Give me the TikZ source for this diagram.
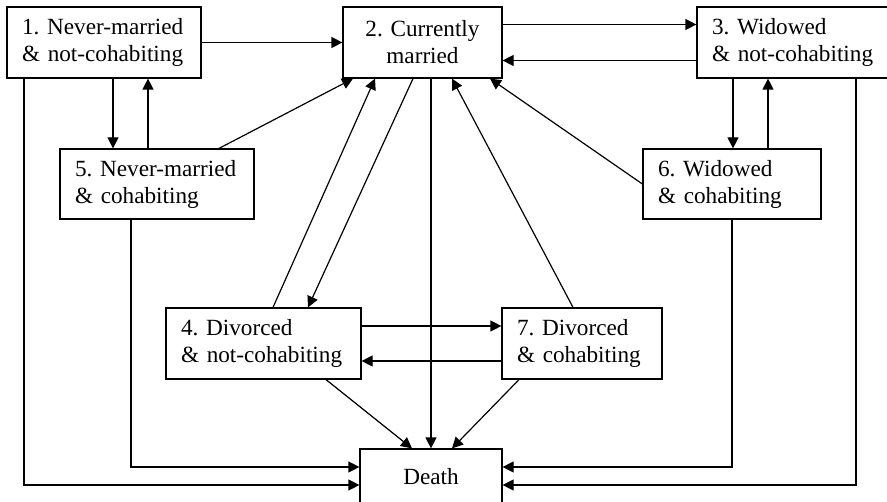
\documentclass[tikz,border=0pt]{standalone}
\usepackage{fontspec}
\setmainfont{Liberation Serif}
\usepackage{tikz}
\usetikzlibrary{arrows.meta,positioning,calc}
\frenchspacing

\begin{document}
\begin{tikzpicture}[
  x=0.5pt,y=-0.5pt,
  blk/.style={draw,line width=0.6pt,align=left,inner xsep=7.5pt,inner ysep=0pt,
              minimum height=35.5pt,text width=82pt,
              font=\fontsize{11.6}{13.5}\selectfont\frenchspacing},
  cblk/.style={blk,align=center},
  arr/.style={-{Triangle[length=5.5pt,width=5.5pt]},line width=0.6pt}
]
\useasboundingbox (0,0) rectangle (887,502);
\clip (0,0) rectangle (887,502);

% top row
\node[blk] (nevnot) at (104,42.5) {1. Never-married\\\& not-cohabiting};
\node[cblk,text width=64.5pt] (married) at (422.5,42.5) {2. Currently\\married};
\node[blk] (widnot) at (794,42.5) {3. Widowed\\\& not-cohabiting};

% cohabiting
\node[blk,minimum height=35pt] (nevcoh) at (157,184) {5. Never-married\\\& cohabiting};
\node[blk,minimum height=35pt,text width=74pt] (widcoh) at (732,184) {6. Widowed\\\& cohabiting};

% divorced
\node[blk,text width=82.5pt] (divnot) at (263.5,343.5) {4. Divorced\\\& not-cohabiting};
\node[blk,text width=65pt] (divcoh) at (582,343.5) {7. Divorced\\\& cohabiting};

% absorbing state
\node[cblk,text width=56pt,minimum height=28pt] (death) at (431,477) {Death};

% Arrows
\draw[arr] (nevnot) -- (married);
\draw[arr] ([yshift=9pt]married.east) -- ([yshift=9pt]married.east -| widnot.west);
\draw[arr] ([yshift=-9pt]widnot.west) -- ([yshift=-9pt]widnot.west -| married.east);

\draw[arr] ([xshift=4.5pt]nevnot.south) -- ([xshift=4.5pt]nevnot.south |- nevcoh.north);
\draw[arr] ([xshift=22pt]nevnot.south |- nevcoh.north) -- ([xshift=22pt]nevnot.south);
\draw[arr] ([xshift=-30.5pt]widnot.south) -- ([xshift=-30.5pt]widnot.south |- widcoh.north);
\draw[arr] ([xshift=-13pt]widnot.south |- widcoh.north) -- ([xshift=-13pt]widnot.south);

\draw[arr] ([xshift=31pt]nevcoh.north) -- ([xshift=-34.75pt]married.south);
\draw[arr] (widcoh.west) -- ([xshift=33.75pt]married.south);
\draw[arr] ([xshift=4.75pt]divnot.north) -- ([xshift=-23.75pt]married.south);
\draw[arr] ([xshift=-4.75pt]married.south) -- ([xshift=22.25pt]divnot.north);
\draw[arr] ([xshift=-4.5pt]divcoh.north) -- ([xshift=14.75pt]married.south);

\draw[arr] ([yshift=8.75pt]divnot.east) -- ([yshift=8.75pt]divnot.east -| divcoh.west);
\draw[arr] ([yshift=-8.75pt]divcoh.west) -- ([yshift=-8.75pt]divcoh.west -| divnot.east);

% into death
\draw[arr] (married.south -| death.north) -- (death.north);
\draw[arr] ([xshift=31.25pt]divnot.south) -- ([xshift=-9.5pt]death.north);
\draw[arr] ([xshift=-31.5pt]divcoh.south) -- ([xshift=10.5pt]death.north);
\draw[arr] ([xshift=-40pt]nevnot.south) |- ([yshift=-4pt]death.west);
\draw[arr] ([xshift=-13pt]nevcoh.south) |- ([yshift=5pt]death.west);
\draw[arr] (widcoh.south) |- ([yshift=5pt]death.east);
\draw[arr] ([xshift=31pt]widnot.south) |- ([yshift=-4pt]death.east);

\end{tikzpicture}
\end{document}
